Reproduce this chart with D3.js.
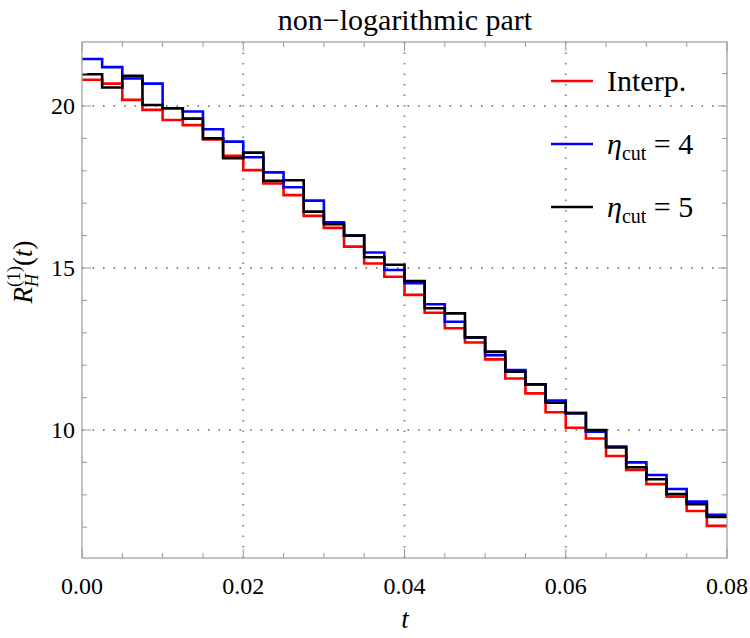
<!DOCTYPE html>
<html><head><meta charset="utf-8"><script src="https://cdn.jsdelivr.net/npm/d3@7"></script></head>
<body style="margin:0">
<svg id="s" width="750" height="638"></svg>
<script>
// bins of width 0.0025 on t in [0, 0.08]
var binWidth = 0.0025;

var interp = [20.81, 20.69, 20.19, 19.88, 19.57, 19.41, 18.97, 18.46, 18.02, 17.61, 17.25, 16.61, 16.24, 15.66, 15.14, 14.73,
              14.17, 13.62, 13.14, 12.70, 12.18, 11.59, 11.13, 10.55, 10.07, 9.74, 9.20, 8.77, 8.33, 7.94, 7.50, 7.04];

var eta4 = [21.45, 21.20, 20.85, 20.69, 19.93, 19.83, 19.28, 18.90, 18.42, 17.95, 17.49, 17.08, 16.41, 16.00, 15.48, 14.94,
            14.53, 13.88, 13.34, 12.86, 12.31, 11.85, 11.41, 10.91, 10.52, 9.95, 9.49, 9.00, 8.61, 8.18, 7.79, 7.38];

var eta5 = [20.98, 20.57, 20.93, 20.03, 19.93, 19.61, 19.00, 18.39, 18.56, 17.69, 17.71, 16.74, 16.35, 16.00, 15.33, 15.10,
            14.60, 13.76, 13.60, 12.86, 12.42, 11.80, 11.41, 10.84, 10.52, 10.00, 9.46, 8.85, 8.48, 8.02, 7.71, 7.32];

var xTicks = [0, 0.02, 0.04, 0.06, 0.08];
var xTickLabels = ["0.00", "0.02", "0.04", "0.06", "0.08"];
var yTicks = [10, 15, 20];

var svg = d3.select("#s");
var pLeft = 82, pRight = 727, pTop = 42, pBottom = 558;

var x = d3.scaleLinear().domain([0, 0.08]).range([pLeft, pRight]);
var y = d3.scaleLinear().domain([6.05, 21.975]).range([pBottom, pTop]);

// text helper: font set on every text element
function label(px, py, size) {
    return svg.append("text").attr("x", px).attr("y", py)
        .style("font-family", "Liberation Serif").style("font-size", size + "px");
}

// grid
var grid = svg.append("g").attr("stroke", "#8a8a8a").attr("stroke-width", 2).attr("stroke-dasharray", "1.6,8.9");
grid.selectAll(".gx").data([0.02, 0.04, 0.06]).enter().append("line")
    .attr("x1", function(d) { return x(d); }).attr("x2", function(d) { return x(d); })
    .attr("y1", pBottom).attr("y2", pTop);
grid.selectAll(".gy").data(yTicks).enter().append("line")
    .attr("y1", function(d) { return y(d); }).attr("y2", function(d) { return y(d); })
    .attr("x1", pLeft).attr("x2", pRight);

// step lines
var step = d3.line()
    .x(function(d) { return x(d[0]); })
    .y(function(d) { return y(d[1]); })
    .curve(d3.curveStepAfter);

function pts(vals) {
    var p = vals.map(function(v, i) { return [i * binWidth, v]; });
    p.push([vals.length * binWidth, vals[vals.length - 1]]);
    return p;
}

var series = [
    {vals: interp, color: "#ff0000"},
    {vals: eta4, color: "#0000ff"},
    {vals: eta5, color: "#000000"}
];
series.forEach(function(s) {
    svg.append("path").attr("d", step(pts(s.vals)))
        .attr("fill", "none").attr("stroke", s.color).attr("stroke-width", 2.6);
});

// frame + ticks
var frameCol = "#999";
svg.append("rect").attr("x", pLeft).attr("y", pTop).attr("width", pRight - pLeft).attr("height", pBottom - pTop)
    .attr("fill", "none").attr("stroke", frameCol).attr("stroke-width", 1.2);

var xMinor = d3.range(0, 0.0801, 0.005);
var yMinor = d3.range(7, 22, 1);

function isMajorX(d) { return Math.abs(d / 0.02 - Math.round(d / 0.02)) < 1e-6; }
function isMajorY(d) { return d % 5 === 0; }

var tk = svg.append("g").attr("stroke", frameCol).attr("stroke-width", 1);
tk.selectAll(".tb").data(xMinor).enter().append("line")
    .attr("x1", function(d) { return x(d); }).attr("x2", function(d) { return x(d); })
    .attr("y1", pBottom).attr("y2", function(d) { return pBottom - (isMajorX(d) ? 9 : 5); });
tk.selectAll(".tt").data(xMinor).enter().append("line")
    .attr("x1", function(d) { return x(d); }).attr("x2", function(d) { return x(d); })
    .attr("y1", pTop).attr("y2", function(d) { return pTop + (isMajorX(d) ? 9 : 5); });
tk.selectAll(".tl").data(yMinor).enter().append("line")
    .attr("y1", function(d) { return y(d); }).attr("y2", function(d) { return y(d); })
    .attr("x1", pLeft).attr("x2", function(d) { return pLeft + (isMajorY(d) ? 9 : 5); });
tk.selectAll(".tr").data(yMinor).enter().append("line")
    .attr("y1", function(d) { return y(d); }).attr("y2", function(d) { return y(d); })
    .attr("x1", pRight).attr("x2", function(d) { return pRight - (isMajorY(d) ? 9 : 5); });

// tick labels
xTicks.forEach(function(d, i) {
    label(x(d), 594, 24).attr("text-anchor", "middle").text(xTickLabels[i]);
});
yTicks.forEach(function(d) {
    label(75, y(d) + 8, 24).attr("text-anchor", "end").text(d);
});

// title
label(405, 30, 30).attr("text-anchor", "middle").text("non\u2212logarithmic part");

// x label
label(405, 628, 27).attr("text-anchor", "middle").style("font-style", "italic").text("t");

// y label
var yl = label(0, 0, 27).attr("transform", "translate(32,272) rotate(-90)").attr("text-anchor", "middle");
yl.append("tspan").style("font-style", "italic").text("R");
yl.append("tspan").style("font-style", "italic").style("font-size", "18px").attr("dy", 6).text("H");
yl.append("tspan").style("font-size", "18px").attr("dx", -13).attr("dy", -18).text("(1)");
yl.append("tspan").attr("dy", 12).text("(");
yl.append("tspan").style("font-style", "italic").text("t");
yl.append("tspan").text(")");

// legend
var legend = [
    {color: "#ff0000", main: "Interp.", eta: false},
    {color: "#0000ff", main: " = 4", eta: true},
    {color: "#000000", main: " = 5", eta: true}
];
legend.forEach(function(l, i) {
    var ly = 81 + i * 63;
    svg.append("line").attr("x1", 551).attr("x2", 593).attr("y1", ly).attr("y2", ly)
        .attr("stroke", l.color).attr("stroke-width", 2.6);
    var t = label(607, ly + 10, 30);
    if (l.eta) {
        t.append("tspan").style("font-style", "italic").text("\u03b7");
        t.append("tspan").style("font-size", "20px").attr("dy", 6).text("cut");
        t.append("tspan").attr("dy", -6).text(l.main);
    } else {
        t.text(l.main);
    }
});
</script>
</body>
</html>
